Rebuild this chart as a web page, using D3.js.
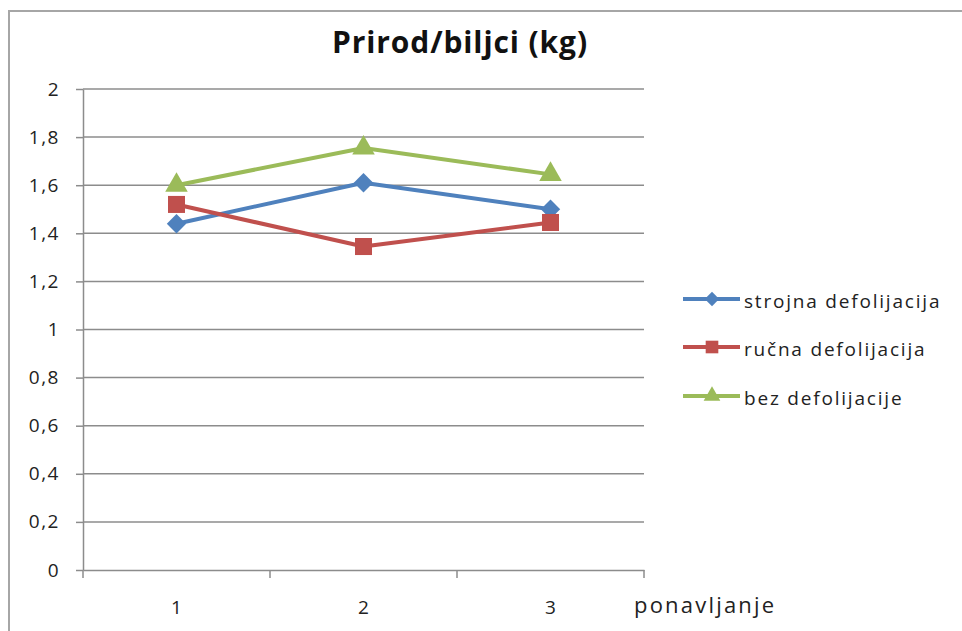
<!DOCTYPE html>
<html>
<head>
<meta charset="utf-8">
<script src="https://cdn.jsdelivr.net/npm/d3@7"></script>
<style>
  body { margin: 0; background: #fff; }
  svg { display: block; font-family: "Open Sans", sans-serif; }
</style>
</head>
<body>
<svg width="962" height="631"></svg>
<script>
// podaci
const categories = ["1", "2", "3"];
const seriesNames = ["strojna defolijacija", "ručna defolijacija", "bez defolijacije"];
const strojna = [1.44, 1.61, 1.50];
const rucna = [1.52, 1.345, 1.445];
const bez = [1.60, 1.755, 1.645];
const yTicks = [0, 0.2, 0.4, 0.6, 0.8, 1, 1.2, 1.4, 1.6, 1.8, 2];

const colors = ["#4F81BD", "#C0504D", "#9BBB59"];
const markers = [d3.symbolDiamond2, d3.symbolSquare, d3.symbolTriangle];
const series = [strojna, rucna, bez].map((v, i) => ({ name: seriesNames[i], values: v, color: colors[i], marker: markers[i] }));

const svg = d3.select("svg");

// okvir grafikona
svg.append("rect")
    .attr("x", 9).attr("y", 11)
    .attr("width", 1000).attr("height", 700)
    .attr("fill", "none")
    .attr("stroke", "#a6a6a6")
    .attr("stroke-width", 2);

const area = { left: 83, right: 644, top: 89, bottom: 570 };

const scX = d3.scaleBand().domain(categories).range([area.left, area.right]);
const scY = d3.scaleLinear().domain([0, 2]).range([area.bottom, area.top]);

// mreža
svg.append("g")
    .selectAll("line")
    .data(yTicks.filter(d => d > 0))
    .enter()
    .append("line")
    .attr("x1", area.left).attr("x2", area.right)
    .attr("y1", d => scY(d)).attr("y2", d => scY(d))
    .attr("stroke", "#8c8c8c")
    .attr("stroke-width", 1.5);

// os Y
let axisY = d3.axisLeft(scY).tickValues(yTicks).tickSize(7).tickSizeOuter(0)
    .tickFormat(d => String(d).replace(".", ","));
let gY = svg.append("g")
    .attr("transform", `translate(${area.left}, 0)`)
    .call(axisY);
gY.select(".domain").attr("stroke", "#8c8c8c").attr("stroke-width", 1.5);
gY.selectAll(".tick line").attr("stroke", "#8c8c8c").attr("stroke-width", 1.5);
gY.selectAll("text")
    .attr("x", -23)
    .style("font-size", "19px")
    .style("font-family", "'Open Sans', sans-serif")
    .style("letter-spacing", "1.5px")
    .attr("fill", "#222");

// os X
let axisX = d3.axisBottom(scX).tickSize(0).tickSizeOuter(0);
let gX = svg.append("g")
    .attr("transform", `translate(0, ${area.bottom})`)
    .call(axisX);
gX.select(".domain").attr("stroke", "#8c8c8c").attr("stroke-width", 1.5);
gX.selectAll("text")
    .attr("y", 31)
    .style("font-size", "19px")
    .style("font-family", "'Open Sans', sans-serif")
    .attr("fill", "#222");
// crtice između kategorija
const edges = categories.map(c => scX(c)).concat([scX(categories[categories.length - 1]) + scX.bandwidth()]);
gX.selectAll(".sep")
    .data(edges)
    .enter()
    .append("line")
    .attr("x1", d => d).attr("x2", d => d)
    .attr("y1", 0).attr("y2", 8)
    .attr("stroke", "#8c8c8c")
    .attr("stroke-width", 1.5);

svg.append("text")
    .attr("x", 634).attr("y", 613)
    .style("font-size", "22px")
    .style("letter-spacing", "2.2px")
    .attr("fill", "#222")
    .text("ponavljanje");

// naslov
svg.append("text")
    .attr("x", 460).attr("y", 53)
    .attr("text-anchor", "middle")
    .style("font-size", "30px")
    .style("font-weight", "bold")
    .style("letter-spacing", "0.9px")
    .attr("fill", "#111")
    .text("Prirod/biljci (kg)");

// linije
const line = d3.line()
    .x((d, i) => scX(categories[i]) + scX.bandwidth() / 2)
    .y(d => scY(d));

series.forEach(s => {
    svg.append("path")
        .datum(s.values)
        .attr("d", line)
        .attr("fill", "none")
        .attr("stroke", s.color)
        .attr("stroke-width", 4)
        .attr("stroke-linejoin", "round");
});

function markerSize(m) {
    if (m === d3.symbolSquare) return 290;
    if (m === d3.symbolTriangle) return 220;
    return 240;
}

series.forEach(s => {
    svg.append("g")
        .selectAll("path")
        .data(s.values)
        .enter()
        .append("path")
        .attr("d", d3.symbol().type(s.marker).size(markerSize(s.marker)))
        .attr("transform", (d, i) => `translate(${scX(categories[i]) + scX.bandwidth() / 2}, ${scY(d)})`)
        .attr("fill", s.color);
});

// legenda
const legY = [299, 347, 396];
series.forEach((s, i) => {
    let g = svg.append("g").attr("transform", `translate(683, ${legY[i]})`);
    g.append("line")
        .attr("x1", 0).attr("x2", 57)
        .attr("y1", 0).attr("y2", 0)
        .attr("stroke", s.color)
        .attr("stroke-width", 4);
    g.append("path")
        .attr("d", d3.symbol().type(s.marker).size(markerSize(s.marker) * 0.55))
        .attr("transform", "translate(29, 0)")
        .attr("fill", s.color);
    g.append("text")
        .attr("x", 61).attr("y", 9)
        .style("font-size", "19px")
        .style("letter-spacing", "1.8px")
        .attr("fill", "#222")
        .text(s.name);
});
</script>
</body>
</html>
